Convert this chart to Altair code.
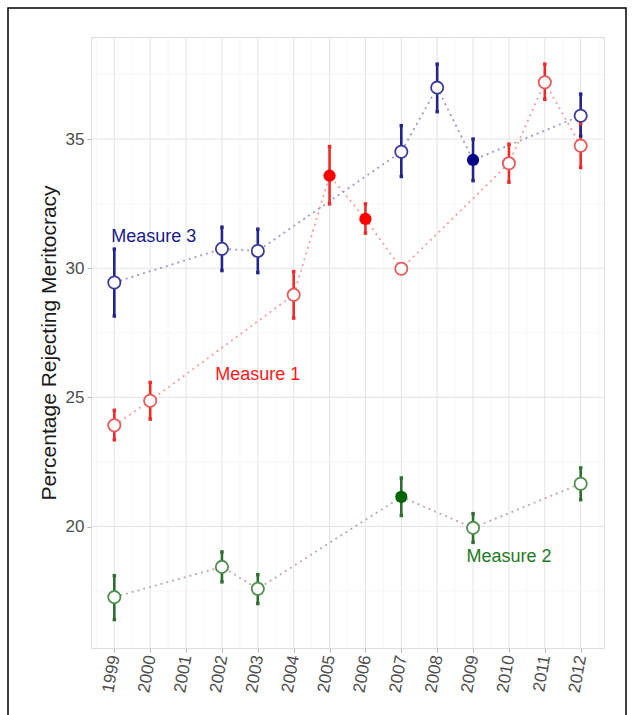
import altair as alt
import pandas as pd

# ---- data ----
years3 = [1999, 2002, 2003, 2007, 2008, 2009, 2012]
m3 = [29.45, 30.75, 30.67, 34.51, 36.99, 34.19, 35.90]
m3_lo = [28.15, 29.91, 29.83, 33.55, 36.06, 33.39, 35.12]
m3_hi = [30.74, 31.59, 31.51, 35.52, 37.90, 35.00, 36.74]
m3_filled = [False, False, False, False, False, True, False]

years1 = [1999, 2000, 2004, 2005, 2006, 2007, 2010, 2011, 2012]
m1 = [23.92, 24.87, 28.97, 33.58, 31.91, 29.98, 34.06, 37.20, 34.74]
m1_lo = [23.36, 24.16, 28.07, 32.49, 31.36, 29.92, 33.33, 36.54, 33.90]
m1_hi = [24.50, 25.58, 29.87, 34.71, 32.49, 30.04, 34.80, 37.90, 35.60]
m1_filled = [False, False, False, True, True, False, False, False, False]

years2 = [1999, 2002, 2003, 2007, 2009, 2012]
m2 = [17.27, 18.44, 17.59, 21.15, 19.95, 21.66]
m2_lo = [16.40, 17.86, 17.02, 20.43, 19.39, 21.04]
m2_hi = [18.10, 19.02, 18.14, 21.88, 20.50, 22.27]
m2_filled = [False, False, False, True, False, False]

measures = ["Measure 1", "Measure 2", "Measure 3"]
bar_colors = ["#ee2a2a", "#2f6f2f", "#24248c"]
open_colors = ["#e85a5a", "#4f8f4f", "#3b3b9a"]
fill_colors = ["#ff0000", "#006400", "#00008b"]
line_colors = ["#f2a0a0", "#c0a8a8", "#9c9cc4"]

label_text = ["Measure 3", "Measure 1", "Measure 2"]
label_x = [2000.1, 2003.0, 2010.0]
label_y = [31.2, 25.88, 18.84]

x_ticks = list(range(1999, 2013))
x_minor = [y + 0.5 for y in range(1998, 2013)]
y_ticks = [20, 25, 30, 35]
y_minor = [17.5, 22.5, 27.5, 32.5, 37.5]

rows = []
for name, ys, v, lo, hi, f in [
    ("Measure 1", years1, m1, m1_lo, m1_hi, m1_filled),
    ("Measure 2", years2, m2, m2_lo, m2_hi, m2_filled),
    ("Measure 3", years3, m3, m3_lo, m3_hi, m3_filled),
]:
    for i in range(len(ys)):
        rows.append(dict(measure=name, year=ys[i], value=v[i], lo=lo[i], hi=hi[i], filled=f[i]))
df = pd.DataFrame(rows)
ends = pd.concat([
    df[["measure", "year", "lo"]].rename(columns={"lo": "end"}),
    df[["measure", "year", "hi"]].rename(columns={"hi": "end"}),
])

xs = alt.Scale(domain=[1998.35, 2012.65], nice=False, zero=False)
ys_ = alt.Scale(domain=[15.3, 38.95], nice=False, zero=False)

x_axis = alt.Axis(
    values=x_ticks, format="d", labelAngle=280, grid=False, domain=False,
    tickColor="#b3b3b3", tickSize=4, labelFontSize=17, labelColor="#4d4d4d",
    labelFont="Liberation Sans", labelPadding=3, labelAlign="right",
    labelBaseline="middle", labelOverlap=False, labelBound=False, title=None)
y_axis = alt.Axis(
    values=y_ticks, grid=False, domain=False, tickColor="#b3b3b3", tickSize=4,
    labelFontSize=17, labelColor="#4d4d4d", labelFont="Liberation Sans",
    labelPadding=3, title="Percentage Rejecting Meritocracy", titleFontSize=21,
    titleFont="Liberation Sans", titleFontWeight="normal", titleColor="#1a1a1a",
    titlePadding=6)


def xq(field):
    return alt.X(field, scale=xs, axis=x_axis)


def yq(field):
    return alt.Y(field, scale=ys_, axis=y_axis)


grid_x_minor = alt.Chart(pd.DataFrame({"g": x_minor})).mark_rule(
    color="#f2f2f2", strokeWidth=0.6).encode(x=xq("g:Q"))
grid_x = alt.Chart(pd.DataFrame({"g": x_ticks})).mark_rule(
    color="#e4e4e4", strokeWidth=1).encode(x=xq("g:Q"))
grid_y_minor = alt.Chart(pd.DataFrame({"g": y_minor})).mark_rule(
    color="#f2f2f2", strokeWidth=0.6).encode(y=yq("g:Q"))
grid_y = alt.Chart(pd.DataFrame({"g": y_ticks})).mark_rule(
    color="#e4e4e4", strokeWidth=1).encode(y=yq("g:Q"))

base = alt.Chart(df)

lines = base.mark_line(strokeDash=[2, 4], strokeWidth=1.8).encode(
    x=xq("year:Q"), y=yq("value:Q"),
    color=alt.Color("measure:N", scale=alt.Scale(domain=measures, range=line_colors), legend=None),
    order="year:Q")

bars = base.mark_rule(strokeWidth=2.6).encode(
    x=xq("year:Q"), y=yq("lo:Q"), y2="hi:Q",
    color=alt.Color("measure:N", scale=alt.Scale(domain=measures, range=bar_colors), legend=None))

caps = alt.Chart(ends).mark_square(size=12, opacity=1).encode(
    x=xq("year:Q"), y=yq("end:Q"),
    color=alt.Color("measure:N", scale=alt.Scale(domain=measures, range=bar_colors), legend=None))

open_pts = base.transform_filter("!datum.filled").mark_point(
    shape="circle", size=150, filled=False, fill="white", fillOpacity=1,
    strokeWidth=1.8, opacity=1).encode(
    x=xq("year:Q"), y=yq("value:Q"),
    color=alt.Color("measure:N", scale=alt.Scale(domain=measures, range=open_colors), legend=None))

filled_pts = base.transform_filter("datum.filled").mark_circle(size=150, opacity=1).encode(
    x=xq("year:Q"), y=yq("value:Q"),
    color=alt.Color("measure:N", scale=alt.Scale(domain=measures, range=fill_colors), legend=None))

labels = alt.Chart(pd.DataFrame({"t": label_text, "x": label_x, "y": label_y})).mark_text(
    fontSize=18, font="Liberation Sans", align="center", baseline="middle").encode(
    x=xq("x:Q"), y=yq("y:Q"), text="t:N",
    color=alt.Color("t:N", scale=alt.Scale(domain=["Measure 1", "Measure 2", "Measure 3"],
                                           range=["#ff1a1a", "#1f7a1f", "#1a1a8c"]), legend=None))

frame = alt.Chart(pd.DataFrame({"a": [0]})).mark_rect(
    fill="transparent", stroke="#000000", strokeWidth=1.5).encode(
    x=alt.value(-83), x2=alt.value(535), y=alt.value(-29), y2=alt.value(700))

chart = alt.layer(
    grid_x_minor, grid_y_minor, grid_x, grid_y, lines, bars, caps, open_pts, filled_pts, labels, frame
).resolve_scale(color="independent").properties(
    width=513, height=611, autosize=alt.AutoSizeParams(type="none"),
    padding={"left": 91, "top": 37, "right": 29, "bottom": 67}
).configure_view(stroke="#b3b3b3", strokeWidth=1.2).configure_axis(
    labelOverlap=False).configure(background="white")

chart.save("out.html", embed_options={"renderer": "svg", "actions": False})
